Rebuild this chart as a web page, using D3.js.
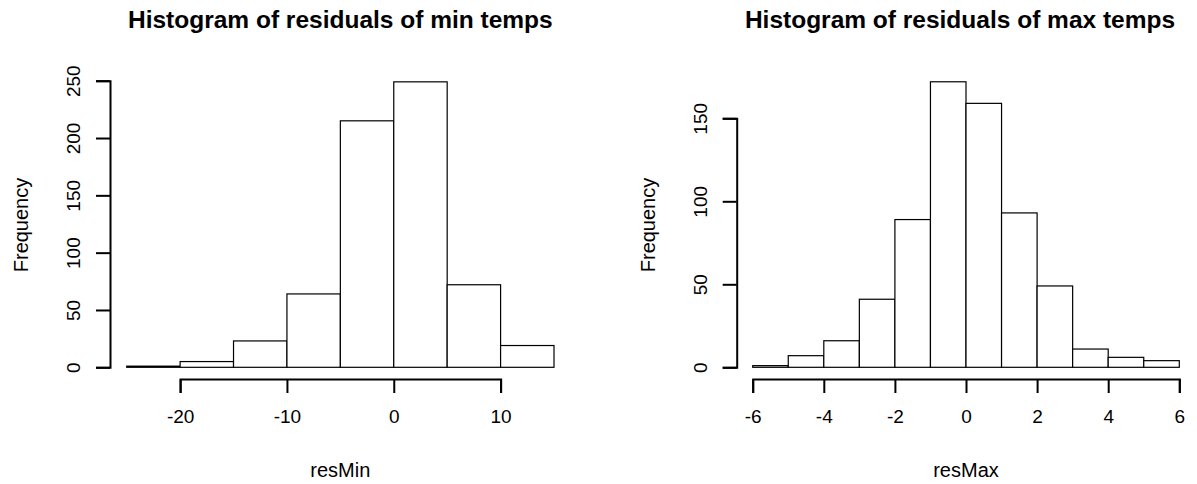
<!DOCTYPE html>
<html>
<head>
<meta charset="utf-8">
<script src="https://cdn.jsdelivr.net/npm/d3@7"></script>
<style>
  body { margin: 0; background: #fff; }
  text { font-family: "Liberation Sans", Arial, sans-serif; fill: #000; }
</style>
</head>
<body>
<div id="chart"></div>
<script>
// histogram data
const minBreaks = [-25, -20, -15, -10, -5, 0, 5, 10, 15]
const minCounts = [1, 5, 23, 64, 215, 249, 72, 19]
const minXTicks = [-20, -10, 0, 10]
const minYTicks = [0, 50, 100, 150, 200, 250]

const maxBreaks = [-6, -5, -4, -3, -2, -1, 0, 1, 2, 3, 4, 5, 6]
const maxCounts = [1, 7, 16, 41, 89, 172, 159, 93, 49, 11, 6, 4]
const maxXTicks = [-6, -4, -2, 0, 2, 4, 6]
const maxYTicks = [0, 50, 100, 150]

const width = 1197
const height = 484

const svg = d3.select('#chart').append('svg')
  .attr('width', width)
  .attr('height', height)

// one panel = one histogram
function panel(opts) {
  const bins = opts.counts.map((c, i) => ({x0: opts.breaks[i], x1: opts.breaks[i + 1], n: c}))

  const x = d3.scaleLinear()
    .domain([opts.breaks[0], opts.breaks.at(-1)])
    .range(opts.xRange)
  const y = d3.scaleLinear()
    .domain([0, opts.yTicks.at(-1)])
    .range(opts.yRange)

  const g = svg.append('g')

  g.selectAll('rect')
    .data(bins)
    .enter().append('rect')
    .attr('x', d => x(d.x0))
    .attr('y', d => y(d.n))
    .attr('width', d => x(d.x1) - x(d.x0))
    .attr('height', d => y(0) - y(d.n))
    .attr('fill', '#fff')
    .attr('stroke', '#000')
    .attr('stroke-width', 1.2)

  // x axis only spans first..last tick, like R
  const xa = x.copy()
    .domain([opts.xTicks[0], opts.xTicks.at(-1)])
    .range([x(opts.xTicks[0]), x(opts.xTicks.at(-1))])
  const xAxis = g.append('g')
    .attr('transform', 'translate(0,' + opts.xAxisY + ')')
    .call(d3.axisBottom(xa).tickValues(opts.xTicks).tickSize(14).tickPadding(17).tickFormat(d3.format('d')))
  xAxis.selectAll('path, line').attr('stroke', '#000').attr('stroke-width', 2)
  xAxis.selectAll('text').style('font-size', '19px').text(d => String(d).replace('−', '-'))

  const yAxis = g.append('g')
    .attr('transform', 'translate(' + opts.yAxisX + ',0)')
    .call(d3.axisLeft(y).tickValues(opts.yTicks).tickSize(14))
  yAxis.selectAll('path, line').attr('stroke', '#000').attr('stroke-width', 2)
  yAxis.selectAll('text')
    .style('font-size', '19px')
    .attr('x', 0)
    .attr('dy', 0)
    .attr('y', -30)
    .attr('transform', 'rotate(-90)')
    .attr('text-anchor', 'middle')

  // titles and labels
  const cx = (opts.xRange[0] + opts.xRange[1]) / 2
  g.append('text')
    .attr('x', cx + opts.titleShift)
    .attr('y', 28)
    .attr('text-anchor', 'middle')
    .style('font-size', '24.5px')
    .style('font-weight', 'bold')
    .text(opts.title)

  g.append('text')
    .attr('x', cx)
    .attr('y', 477)
    .attr('text-anchor', 'middle')
    .style('font-size', '20px')
    .text(opts.xLabel)

  g.append('text')
    .attr('transform', 'translate(' + (opts.yAxisX - 82) + ',' + 225 + ') rotate(-90)')
    .attr('text-anchor', 'middle')
    .style('font-size', '20px')
    .text('Frequency')
}

panel({
  breaks: minBreaks, counts: minCounts, xTicks: minXTicks, yTicks: minYTicks,
  xRange: [126.7, 554], yRange: [367.3, 80.7], xAxisY: 379, yAxisX: 110, titleShift: 0,
  title: 'Histogram of residuals of min temps', xLabel: 'resMin'
})

panel({
  breaks: maxBreaks, counts: maxCounts, xTicks: maxXTicks, yTicks: maxYTicks,
  xRange: [752.7, 1179.3], yRange: [367.3, 118.3], xAxisY: 379, yAxisX: 736.7, titleShift: -6,
  title: 'Histogram of residuals of max temps', xLabel: 'resMax'
})
</script>
</body>
</html>
